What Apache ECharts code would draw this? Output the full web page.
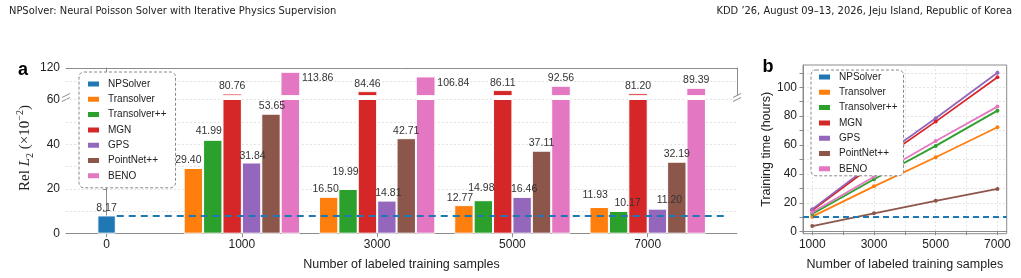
<!DOCTYPE html>
<html>
<head>
<meta charset="utf-8">
<script src="https://cdn.jsdelivr.net/npm/echarts@6/dist/echarts.min.js"></script>
<style>
  html, body { margin: 0; padding: 0; background: #fff; }
  #chart { width: 1021px; height: 278px; }
</style>
</head>
<body>
<div id="chart"></div>
<script>
// ---- data ----
const methodNames = ['NPSolver', 'Transolver', 'Transolver++', 'MGN', 'GPS', 'PointNet++', 'BENO']
const colors = ['#1f77b4', '#ff7f0e', '#2ca02c', '#d62728', '#9467bd', '#8c564b', '#e377c2']

// panel a: Rel L2 (x1e-2), groups by number of labeled samples
const groupsA = ['0', '1000', '3000', '5000', '7000']
const errNPSolver = 8.17
const errTransolver = [29.40, 16.50, 12.77, 11.93]
const errTransolverPP = [41.99, 19.99, 14.98, 10.17]
const errMGN = [80.76, 84.46, 86.11, 81.20]
const errGPS = [31.84, 14.81, 16.46, 11.20]
const errPointNet = [53.65, 42.71, 37.11, 32.19]
const errBENO = [113.86, 106.84, 92.56, 89.39]

// panel b: training time (hours)
const samplesB = [1000, 3000, 5000, 7000]
const timeNPSolver = 10.4
const timeTransolver = [10.4, 31.4, 51.5, 72.3]
const timeTransolverPP = [12.2, 36.3, 59.4, 83.8]
const timeMGN = [14.8, 46.5, 76.2, 106.9]
const timeGPS = [15.6, 48.0, 78.5, 110.1]
const timePointNet = [3.9, 12.7, 21.4, 29.6]
const timeBENO = [13.4, 38.0, 62.8, 86.6]

const errRows = [errTransolver, errTransolverPP, errMGN, errGPS, errPointNet, errBENO]
const timeRows = [timeTransolver, timeTransolverPP, timeMGN, timeGPS, timePointNet, timeBENO]

// ---- style ----
const SANS = "'Liberation Sans', Arial, sans-serif"
const SERIF = "'Liberation Serif', 'DejaVu Serif', serif"
const HEAD = "'Liberation Sans Narrow', 'DejaVu Sans Condensed', sans-serif"
const SPINE = '#8c8c8c'
const GRIDC = '#dddddd'
const lowerMax = 60
const upperMin = 78
const upperMax = 120
const barW = 19.4

// hand nudges of the value labels (px), per method row and group, as in the figure
const labelNudge = [
  [[-5, 0], [-3, 0], [-4, 0], [-4, -4]],
  [[-4, -1], [-2.5, -9], [-2, -5], [9, 0]],
  [[0, 0], [0, 0], [0, 0], [0, 0]],
  [[1, 1], [1.5, 0], [2, 0], [12, -1]],
  [[1, 0], [0, 0], [0, 0], [0, 0]],
  [[0, 0], [0, 0], [0, 0], [0, 0]]
]

const chart = echarts.init(document.getElementById('chart'))

const spineOnly = {
  axisLine: { show: true, lineStyle: { color: SPINE, width: 1 } },
  axisTick: { show: false },
  axisLabel: { show: false },
  splitLine: { show: false }
}
const tickLabel = { color: '#222', fontSize: 12, fontFamily: SANS }
const dotted = { show: true, lineStyle: { color: GRIDC, type: [2, 2], width: 0.8 } }
const valLabel = { fontSize: 10.5, color: '#333', fontFamily: SANS, formatter: p => p.value[1].toFixed(2) }

const xRangeA = { min: -0.3, max: 4.66 }
const groupIdx = groupsA.map((_, i) => i)

const series = []

// NPSolver bar at group 0 (own hidden axis so it is centred on its tick)
series.push({
  name: methodNames[0],
  type: 'bar',
  xAxisIndex: 1,
  yAxisIndex: 0,
  barWidth: barW - 1,
  z: 10,
  itemStyle: { color: colors[0], borderColor: '#fff', borderWidth: 1 },
  label: { show: true, position: 'top', distance: 2, ...valLabel },
  data: [[0, errNPSolver]],
  markLine: {
    silent: true,
    symbol: 'none',
    label: { show: false },
    lineStyle: { color: colors[0], type: [7, 5], width: 2.2 },
    data: [[{ coord: [0.075, errNPSolver] }, { coord: [4.575, errNPSolver] }]]
  }
})

errRows.forEach((row, k) => {
  const name = methodNames[k + 1]
  // lower part 0-60
  series.push({
    name, type: 'bar', xAxisIndex: 0, yAxisIndex: 0,
    barWidth: barW, barGap: '0%',
    itemStyle: { color: colors[k + 1], borderColor: '#fff', borderWidth: 1 },
    label: { position: 'top', distance: 2, ...valLabel },
    data: row.map((v, i) => ({ value: [i + 1, v], label: { show: v <= lowerMax, offset: labelNudge[k][i] } }))
  })
  // upper part 78-120
  series.push({
    name, type: 'bar', xAxisIndex: 2, yAxisIndex: 2,
    barWidth: barW, barGap: '0%',
    itemStyle: { color: colors[k + 1], borderColor: '#fff', borderWidth: 0.8 },
    label: { distance: 2, ...valLabel },
    data: row.map((v, i) => ({
      value: [i + 1, v],
      label: v > 100 ? { show: true, position: [barW + 2, 1] } : { show: v >= upperMin, position: 'top' }
    }))
  })
})

// panel b
series.push({
  name: methodNames[0], type: 'line', xAxisIndex: 3, yAxisIndex: 4,
  color: colors[0], data: [],
  markLine: {
    silent: true, symbol: 'none', label: { show: false },
    lineStyle: { color: colors[0], type: [6, 4], width: 1.8 },
    data: [{ yAxis: timeNPSolver }]
  }
})
timeRows.forEach((row, k) => {
  series.push({
    name: methodNames[k + 1], type: 'line', xAxisIndex: 3, yAxisIndex: 4,
    color: colors[k + 1],
    symbol: 'circle', symbolSize: 4, showSymbol: true,
    lineStyle: { width: 1.8, color: colors[k + 1] },
    itemStyle: { color: colors[k + 1] },
    data: row.map((v, i) => [samplesB[i], v])
  })
})

const legendBase = {
  orient: 'vertical',
  icon: 'rect',
  itemWidth: 13,
  itemHeight: 7,
  itemGap: 1.3,
  backgroundColor: '#fff',
  borderColor: '#888',
  borderWidth: 1,
  borderType: [3, 2],
  borderRadius: 5,
  z: 20,
  selectedMode: false,
  textStyle: { fontSize: 10, lineHeight: 14, color: '#222', fontFamily: SANS, padding: [0, 0, 0, 3] },
  data: methodNames
}

const option = {
  animation: false,
  backgroundColor: '#fff',
  grid: [
    { left: 66, right: 284, top: 99.5, height: 134.2 },
    { left: 66, right: 284, top: 68, height: 27.5 },
    { left: 803, right: 14.3, top: 65, height: 168.7, show: true, borderColor: SPINE, borderWidth: 1, backgroundColor: 'transparent' }
  ],
  xAxis: [
    {
      gridIndex: 0, type: 'value', ...xRangeA,
      axisLine: { show: true, lineStyle: { color: SPINE } },
      axisTick: { show: true, customValues: groupIdx, length: 3.5, lineStyle: { color: SPINE } },
      axisLabel: { ...tickLabel, margin: 5, customValues: groupIdx, formatter: v => groupsA[Math.round(v)] },
      splitLine: { show: false },
      name: 'Number of labeled training samples', nameLocation: 'middle', nameGap: 24,
      nameTextStyle: { fontSize: 12.5, color: '#222', fontFamily: SANS }
    },
    { gridIndex: 0, type: 'value', ...xRangeA, show: false },
    { gridIndex: 1, type: 'value', ...xRangeA, position: 'top', ...spineOnly },
    {
      gridIndex: 2, type: 'value', min: 700, max: 7300,
      axisLine: { show: true, lineStyle: { color: SPINE } },
      axisTick: { show: true, customValues: [1000, 2000, 3000, 4000, 5000, 6000, 7000], length: 3.5, lineStyle: { color: SPINE } },
      axisLabel: { ...tickLabel, margin: 5, customValues: samplesB, formatter: v => String(v) },
      splitLine: dotted,
      name: 'Number of labeled training samples', nameLocation: 'middle', nameGap: 24,
      nameTextStyle: { fontSize: 12.5, color: '#222', fontFamily: SANS }
    }
  ],
  yAxis: [
    {
      gridIndex: 0, type: 'value', min: 0, max: lowerMax, interval: 10,
      axisLine: { show: true, lineStyle: { color: SPINE } },
      axisTick: { show: true, length: 3.5, lineStyle: { color: SPINE } },
      axisLabel: { ...tickLabel, margin: 6, formatter: v => (v % 20 === 0 ? String(v) : '') },
      splitLine: dotted
    },
    { gridIndex: 0, type: 'value', min: 0, max: lowerMax, position: 'right', ...spineOnly },
    {
      gridIndex: 1, type: 'value', min: upperMin, max: upperMax,
      axisLine: { show: true, lineStyle: { color: SPINE } },
      axisTick: { show: true, customValues: [100, 120], length: 3.5, lineStyle: { color: SPINE } },
      axisLabel: { ...tickLabel, margin: 6, customValues: [120] },
      splitLine: dotted
    },
    { gridIndex: 1, type: 'value', min: upperMin, max: upperMax, position: 'right', ...spineOnly },
    {
      gridIndex: 2, type: 'value', min: -1.4, max: 115.4,
      axisLine: { show: true, lineStyle: { color: SPINE } },
      axisTick: { show: true, customValues: [0, 10, 20, 30, 40, 50, 60, 70, 80, 90, 100, 110], length: 3.5, lineStyle: { color: SPINE } },
      axisLabel: { ...tickLabel, margin: 6, customValues: [0, 20, 40, 60, 80, 100] },
      splitLine: dotted,
      name: 'Training time (hours)', nameLocation: 'middle', nameRotate: 90, nameGap: 27,
      nameTextStyle: { fontSize: 12.5, color: '#222', fontFamily: SANS }
    }
  ],
  legend: [
    { ...legendBase, left: 79, top: 72, padding: [5, 9, 5, 7] },
    { ...legendBase, left: 811, top: 70, padding: [0, 6, 0, 6] }
  ],
  series,
  graphic: [
    { type: 'text', left: 9, top: 6, style: { text: 'NPSolver: Neural Poisson Solver with Iterative Physics Supervision',
      fontSize: 11, fontFamily: HEAD, fill: '#222' } },
    { type: 'text', right: 9, top: 6, style: { text: 'KDD \u201926, August 09\u201313, 2026, Jeju Island, Republic of Korea',
      fontSize: 11, fontFamily: HEAD, fill: '#222' } },
    { type: 'text', x: 23, y: 70, style: { text: 'a', fontSize: 18, fontWeight: 'bold', fontFamily: SANS, fill: '#000', align: 'center', verticalAlign: 'middle' } },
    { type: 'text', x: 768, y: 67, style: { text: 'b', fontSize: 18, fontWeight: 'bold', fontFamily: SANS, fill: '#000', align: 'center', verticalAlign: 'middle' } },
    {
      type: 'text', x: 25, y: 148, rotation: Math.PI / 2,
      style: {
        text: '{r|Rel }{i|L}{s|2}{r| (\u00d710}{p|\u22122}{r|)}',
        align: 'center', verticalAlign: 'middle', fill: '#222',
        rich: {
          r: { fontSize: 15, fontFamily: SERIF, lineHeight: 20, verticalAlign: 'middle', fill: '#222' },
          i: { fontSize: 15, fontStyle: 'italic', fontFamily: SERIF, lineHeight: 20, fill: '#222' },
          s: { fontSize: 10, fontFamily: SERIF, lineHeight: 20, verticalAlign: 'bottom', fill: '#222' },
          p: { fontSize: 10, fontFamily: SERIF, lineHeight: 20, verticalAlign: 'top', fill: '#222' }
        }
      }
    },
    // axis-break marks
    { type: 'line', shape: { x1: 62, y1: 97.5, x2: 70, y2: 93.5 }, style: { stroke: SPINE, lineWidth: 1 } },
    { type: 'line', shape: { x1: 62, y1: 101.5, x2: 70, y2: 97.5 }, style: { stroke: SPINE, lineWidth: 1 } },
    { type: 'line', shape: { x1: 733, y1: 97.5, x2: 741, y2: 93.5 }, style: { stroke: SPINE, lineWidth: 1 } },
    { type: 'line', shape: { x1: 733, y1: 101.5, x2: 741, y2: 97.5 }, style: { stroke: SPINE, lineWidth: 1 } }
  ]
}

chart.setOption(option)
</script>
</body>
</html>
